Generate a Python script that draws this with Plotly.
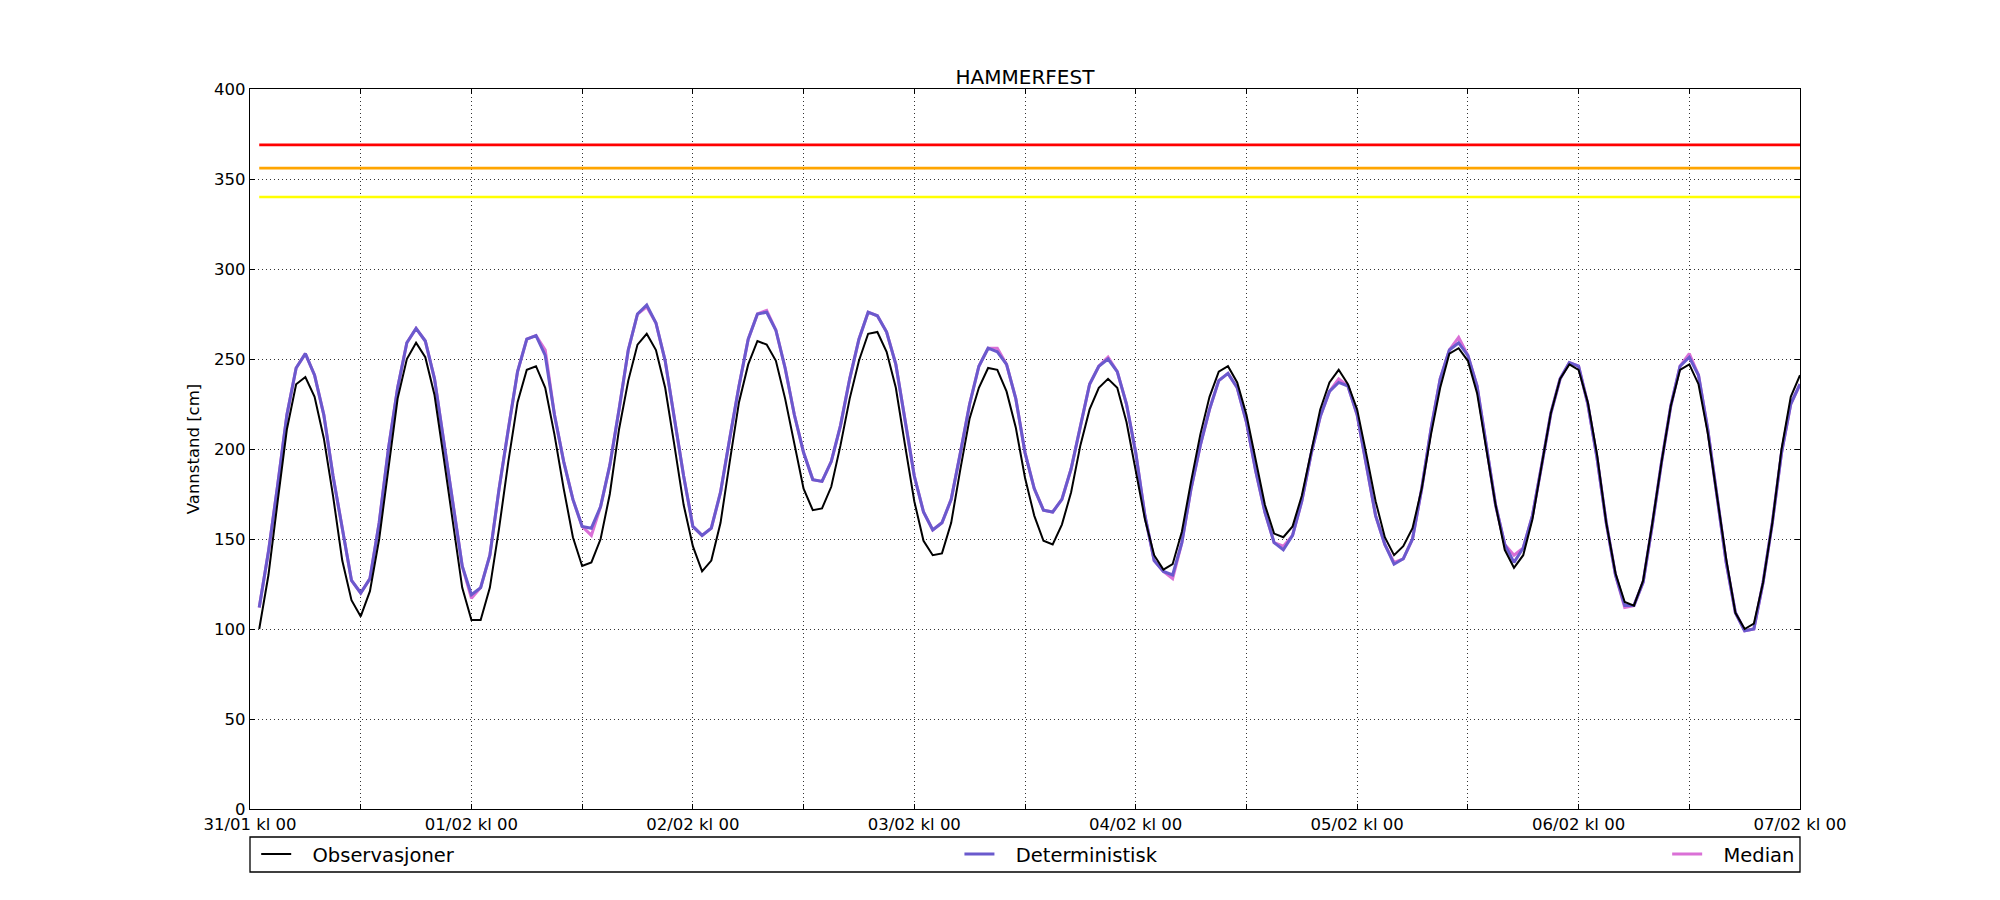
import pandas as pd
import plotly.graph_objects as go

# hourly water level, 31/01 kl 01 .. 07/02 kl 00
observasjoner = [
    100, 130, 171, 211, 236, 240, 229, 206, 174, 138, 116, 107,
    121, 150, 189, 228, 250, 259, 251, 230, 195, 159, 123, 105,
    105, 123, 156, 193, 226, 244, 246, 234, 208, 178, 151, 135,
    137, 150, 175, 211, 238, 258, 264, 255, 234, 202, 169, 146,
    132, 138, 159, 193, 226, 247, 260, 258, 249, 228, 202, 178,
    166, 167, 179, 202, 228, 249, 264, 265, 254, 234, 202, 171,
    149, 141, 142, 159, 189, 217, 234, 245, 244, 232, 212, 184,
    163, 149, 147, 158, 176, 202, 222, 234, 239, 234, 215, 189,
    161, 141, 133, 136, 154, 182, 208, 229, 243, 246, 237, 219,
    194, 169, 153, 151, 157, 174, 198, 222, 237, 244, 236, 222,
    197, 171, 151, 141, 146, 156, 178, 208, 234, 253, 256, 249,
    231, 200, 169, 144, 134, 141, 161, 191, 220, 239, 247, 244,
    226, 197, 159, 131, 115, 113, 127, 159, 193, 224, 244, 247,
    236, 209, 174, 139, 109, 100, 103, 126, 159, 200, 229, 241,
]
deterministisk = [
    112, 143, 180, 219, 245, 253, 241, 219, 185, 156, 127, 120,
    128, 159, 200, 234, 259, 267, 260, 239, 204, 169, 135, 119,
    123, 141, 178, 211, 243, 261, 263, 252, 219, 193, 172, 157,
    156, 168, 191, 222, 255, 275, 280, 270, 249, 217, 185, 157,
    152, 156, 176, 206, 235, 261, 275, 276, 266, 245, 219, 198,
    183, 182, 193, 213, 239, 261, 276, 274, 265, 247, 217, 185,
    165, 155, 159, 172, 198, 225, 246, 256, 254, 247, 228, 198,
    178, 166, 165, 172, 189, 213, 236, 246, 250, 243, 225, 198,
    163, 138, 132, 130, 148, 178, 202, 222, 238, 242, 234, 215,
    188, 165, 148, 144, 152, 171, 197, 218, 232, 237, 235, 219,
    191, 163, 147, 136, 139, 150, 178, 211, 239, 255, 259, 252,
    235, 202, 169, 147, 137, 145, 163, 191, 220, 239, 248, 246,
    225, 195, 159, 130, 113, 113, 126, 158, 193, 224, 246, 251,
    241, 211, 174, 137, 109, 99, 100, 126, 159, 198, 225, 236,
]
median = [
    112, 143, 180, 219, 245, 253, 241, 219, 185, 156, 127, 120,
    128, 159, 200, 234, 259, 267, 260, 239, 204, 169, 135, 117,
    123, 141, 178, 211, 243, 261, 263, 255, 219, 193, 172, 157,
    152, 168, 191, 222, 255, 275, 279, 270, 249, 217, 185, 157,
    152, 156, 176, 206, 235, 261, 275, 277, 266, 245, 219, 198,
    183, 182, 193, 213, 239, 261, 276, 274, 265, 247, 217, 185,
    165, 155, 159, 172, 198, 225, 246, 256, 256, 247, 228, 198,
    178, 166, 165, 172, 189, 213, 236, 246, 251, 243, 225, 198,
    163, 138, 132, 128, 148, 178, 202, 222, 238, 242, 234, 215,
    188, 165, 148, 146, 152, 171, 197, 218, 232, 239, 235, 219,
    191, 163, 147, 137, 139, 150, 178, 211, 239, 255, 262, 252,
    235, 202, 169, 147, 141, 145, 163, 191, 220, 239, 248, 246,
    225, 195, 159, 130, 112, 113, 126, 158, 193, 224, 246, 253,
    241, 211, 174, 137, 109, 99, 100, 126, 159, 198, 225, 236,
]

# warning levels (red, orange, yellow)
nivaa_verdier = [369, 356, 340]
nivaa_farger = ["#ff0000", "#ffa500", "#ffff00"]

tick_labels = ["31/01 kl 00", "", "01/02 kl 00", "", "02/02 kl 00", "", "03/02 kl 00", "",
               "04/02 kl 00", "", "05/02 kl 00", "", "06/02 kl 00", "", "07/02 kl 00"]

tider = pd.date_range("2016-01-31 01:00", periods=len(observasjoner), freq="h")
tick_tider = pd.date_range("2016-01-31 00:00", periods=len(tick_labels), freq="12h")

FONT = "DejaVu Sans, Bitstream Vera Sans, sans-serif"
PAD = "\u00a0\u00a0\u2009"  # gap between legend handle and text

fig = go.Figure()

for verdi, farge in zip(nivaa_verdier, nivaa_farger):
    fig.add_trace(go.Scatter(x=[tider[0], tider[-1]], y=[verdi, verdi], mode="lines",
                             line=dict(color=farge, width=2.7), showlegend=False, hoverinfo="skip"))

# median under deterministic, observations on top
fig.add_trace(go.Scatter(x=tider, y=median, mode="lines", name=PAD + "Median",
                         line=dict(color="#da70d6", width=3), legend="legend3"))
fig.add_trace(go.Scatter(x=tider, y=deterministisk, mode="lines", name=PAD + "Deterministisk",
                         line=dict(color="#6a5acd", width=3), legend="legend2"))
fig.add_trace(go.Scatter(x=tider, y=observasjoner, mode="lines", name=PAD + "Observasjoner",
                         line=dict(color="black", width=2), legend="legend"))

axis_style = dict(showline=True, linecolor="black", linewidth=1.3, mirror="ticks",
                  ticks="inside", ticklen=5, tickcolor="black", tickwidth=1,
                  showgrid=True, gridcolor="#333333", gridwidth=1, griddash="1px,3px",
                  zeroline=False, tickfont=dict(family=FONT, size=16.5, color="black"))

fig.update_xaxes(range=[tick_tider[0], tick_tider[-1]], tickmode="array",
                 tickvals=tick_tider, ticktext=tick_labels, **axis_style)
fig.update_yaxes(range=[0, 400], dtick=50, tick0=0,
                 title=dict(text="Vannstand [cm]", font=dict(family=FONT, size=16.5, color="black"),
                            standoff=10),
                 **axis_style)

leg = dict(orientation="h", yanchor="middle", y=-0.063, xanchor="left",
           bgcolor="rgba(0,0,0,0)", borderwidth=0, itemwidth=30,
           font=dict(family=FONT, size=19.5, color="black"))

# the page body has an 8px margin, so the margins are shifted by 8px
fig.update_layout(
    width=2000, height=900,
    margin=dict(l=242, r=208, t=81, b=99),
    paper_bgcolor="white", plot_bgcolor="white",
    font=dict(family=FONT, color="black"),
    title=dict(text="HAMMERFEST", x=0.5, xref="paper", xanchor="center",
               y=1 - 69 / 900, yref="container", yanchor="middle",
               font=dict(family=FONT, size=20, color="black")),
    legend=dict(leg, x=0.004),
    legend2=dict(leg, x=0.4577),
    legend3=dict(leg, x=0.9143),
    shapes=[dict(type="rect", xref="paper", yref="paper", x0=0, x1=1, y0=-0.0875, y1=-0.0389,
                 line=dict(color="black", width=1.3), fillcolor="rgba(0,0,0,0)", layer="above")],
    hovermode=False,
)

fig.write_html("out.html")
